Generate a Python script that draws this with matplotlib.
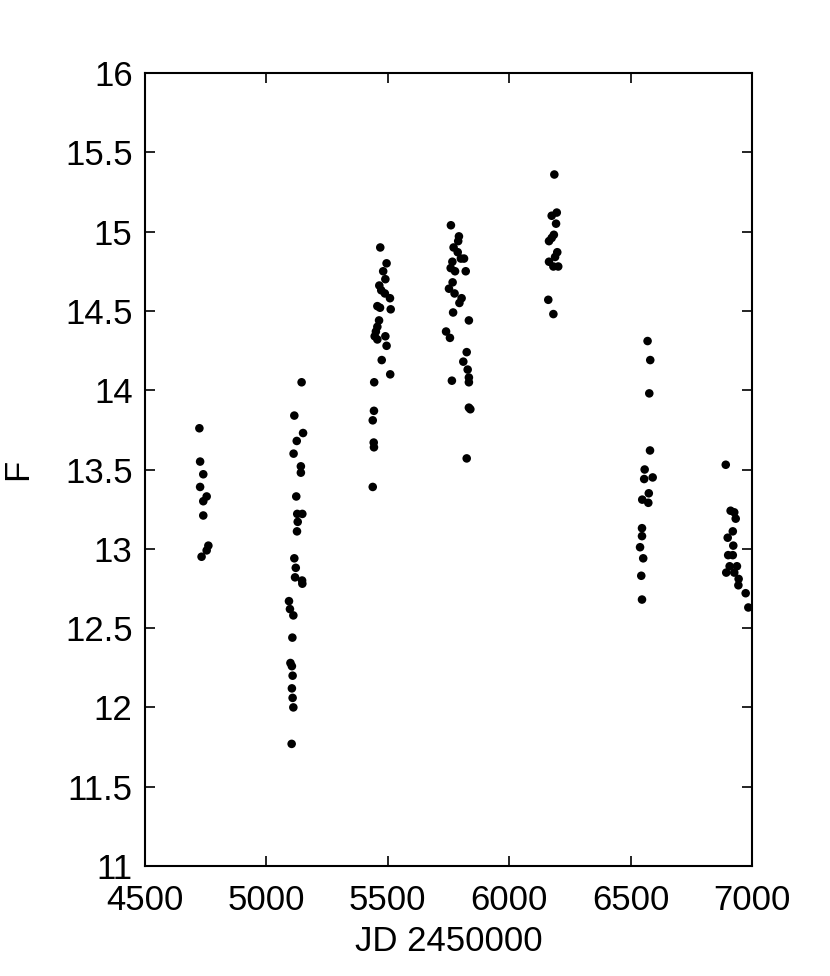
import numpy as np
import matplotlib
matplotlib.use('Agg')
import matplotlib.pyplot as plt

# observation epochs (JD - 2450000) and F values, read per season
jd_s1 = [4724, 4727, 4740, 4727, 4754, 4740, 4740, 4761, 4754, 4733]
f_s1 = [13.76, 13.55, 13.47, 13.39, 13.33, 13.30, 13.21, 13.02, 12.99, 12.95]

jd_s2 = [5145, 5115, 5151, 5125, 5112, 5142, 5142, 5123, 5148, 5127, 5129, 5126,
         5115, 5121, 5118, 5147, 5148, 5093, 5097, 5111, 5107, 5099, 5105, 5108,
         5105, 5108, 5111, 5104]
f_s2 = [14.05, 13.84, 13.73, 13.68, 13.60, 13.52, 13.48, 13.33, 13.22, 13.22, 13.17, 13.11,
        12.94, 12.88, 12.82, 12.80, 12.78, 12.67, 12.62, 12.58, 12.44, 12.28, 12.26, 12.20,
        12.12, 12.06, 12.00, 11.77]

jd_s3 = [5469, 5495, 5481, 5490, 5465, 5473, 5488, 5509, 5457, 5468, 5512, 5464, 5457,
         5451, 5446, 5490, 5457, 5495, 5475, 5510, 5444, 5443, 5438, 5442, 5443, 5438]
f_s3 = [14.90, 14.80, 14.75, 14.70, 14.66, 14.63, 14.61, 14.58, 14.53, 14.52, 14.51, 14.44, 14.40,
        14.37, 14.34, 14.34, 14.32, 14.28, 14.19, 14.10, 14.05, 13.87, 13.81, 13.67, 13.64, 13.39]

jd_s4 = [5760, 5793, 5790, 5771, 5788, 5801, 5814, 5766, 5759, 5777, 5821, 5767, 5752, 5775,
         5804, 5795, 5769, 5834, 5740, 5756, 5825, 5811, 5829, 5834, 5764, 5834, 5834, 5840, 5825]
f_s4 = [15.04, 14.97, 14.94, 14.90, 14.87, 14.83, 14.83, 14.81, 14.77, 14.75, 14.75, 14.68, 14.64, 14.61,
        14.58, 14.55, 14.49, 14.44, 14.37, 14.33, 14.24, 14.18, 14.13, 14.08, 14.06, 14.05, 13.89, 13.88, 13.57]

jd_s5 = [6186, 6196, 6175, 6193, 6184, 6175, 6164, 6198, 6189, 6164, 6182, 6202, 6161, 6182]
f_s5 = [15.36, 15.12, 15.10, 15.05, 14.98, 14.96, 14.94, 14.87, 14.84, 14.81, 14.78, 14.78, 14.57, 14.48]

jd_s6 = [6570, 6581, 6577, 6580, 6558, 6591, 6556, 6575, 6548, 6573, 6547, 6547, 6539, 6552, 6544, 6547]
f_s6 = [14.31, 14.19, 13.98, 13.62, 13.50, 13.45, 13.44, 13.35, 13.31, 13.29, 13.13, 13.08, 13.01, 12.94, 12.83, 12.68]

jd_s7 = [6892, 6912, 6927, 6933, 6921, 6900, 6923, 6902, 6921, 6908, 6938, 6894, 6927, 6945,
         6944, 6974, 6985]
f_s7 = [13.53, 13.24, 13.23, 13.19, 13.11, 13.07, 13.02, 12.96, 12.96, 12.89, 12.89, 12.85, 12.85, 12.81,
        12.77, 12.72, 12.63]

jd = jd_s1 + jd_s2 + jd_s3 + jd_s4 + jd_s5 + jd_s6 + jd_s7
f = f_s1 + f_s2 + f_s3 + f_s4 + f_s5 + f_s6 + f_s7

plt.rcParams['font.family'] = ['Liberation Sans', 'DejaVu Sans']

fig = plt.figure(figsize=(8.3, 9.76), dpi=100)
ax = fig.add_axes([0.1747, 0.1127, 0.7313, 0.8125])

ax.scatter(jd, f, s=38, c='black', edgecolors='none', clip_on=False, zorder=3)

ax.set_xlim(4500, 7000)
ax.set_ylim(11, 16)
ax.set_xticks(np.arange(4500, 7001, 500))
ax.set_yticks(np.arange(11, 16.01, 0.5))
ax.set_yticklabels(['11', '11.5', '12', '12.5', '13', '13.5', '14', '14.5', '15', '15.5', '16'])
ax.tick_params(direction='in', length=7, width=1.2, labelsize=25,
               top=True, right=True)
ax.tick_params(axis='x', pad=13)
ax.tick_params(axis='y', pad=9)
for s in ax.spines.values():
    s.set_linewidth(1.5)

ax.set_xlabel('JD 2450000', fontsize=25, labelpad=6)
ax.set_ylabel('F', fontsize=25, labelpad=22)

plt.savefig('out.png', dpi=100)
